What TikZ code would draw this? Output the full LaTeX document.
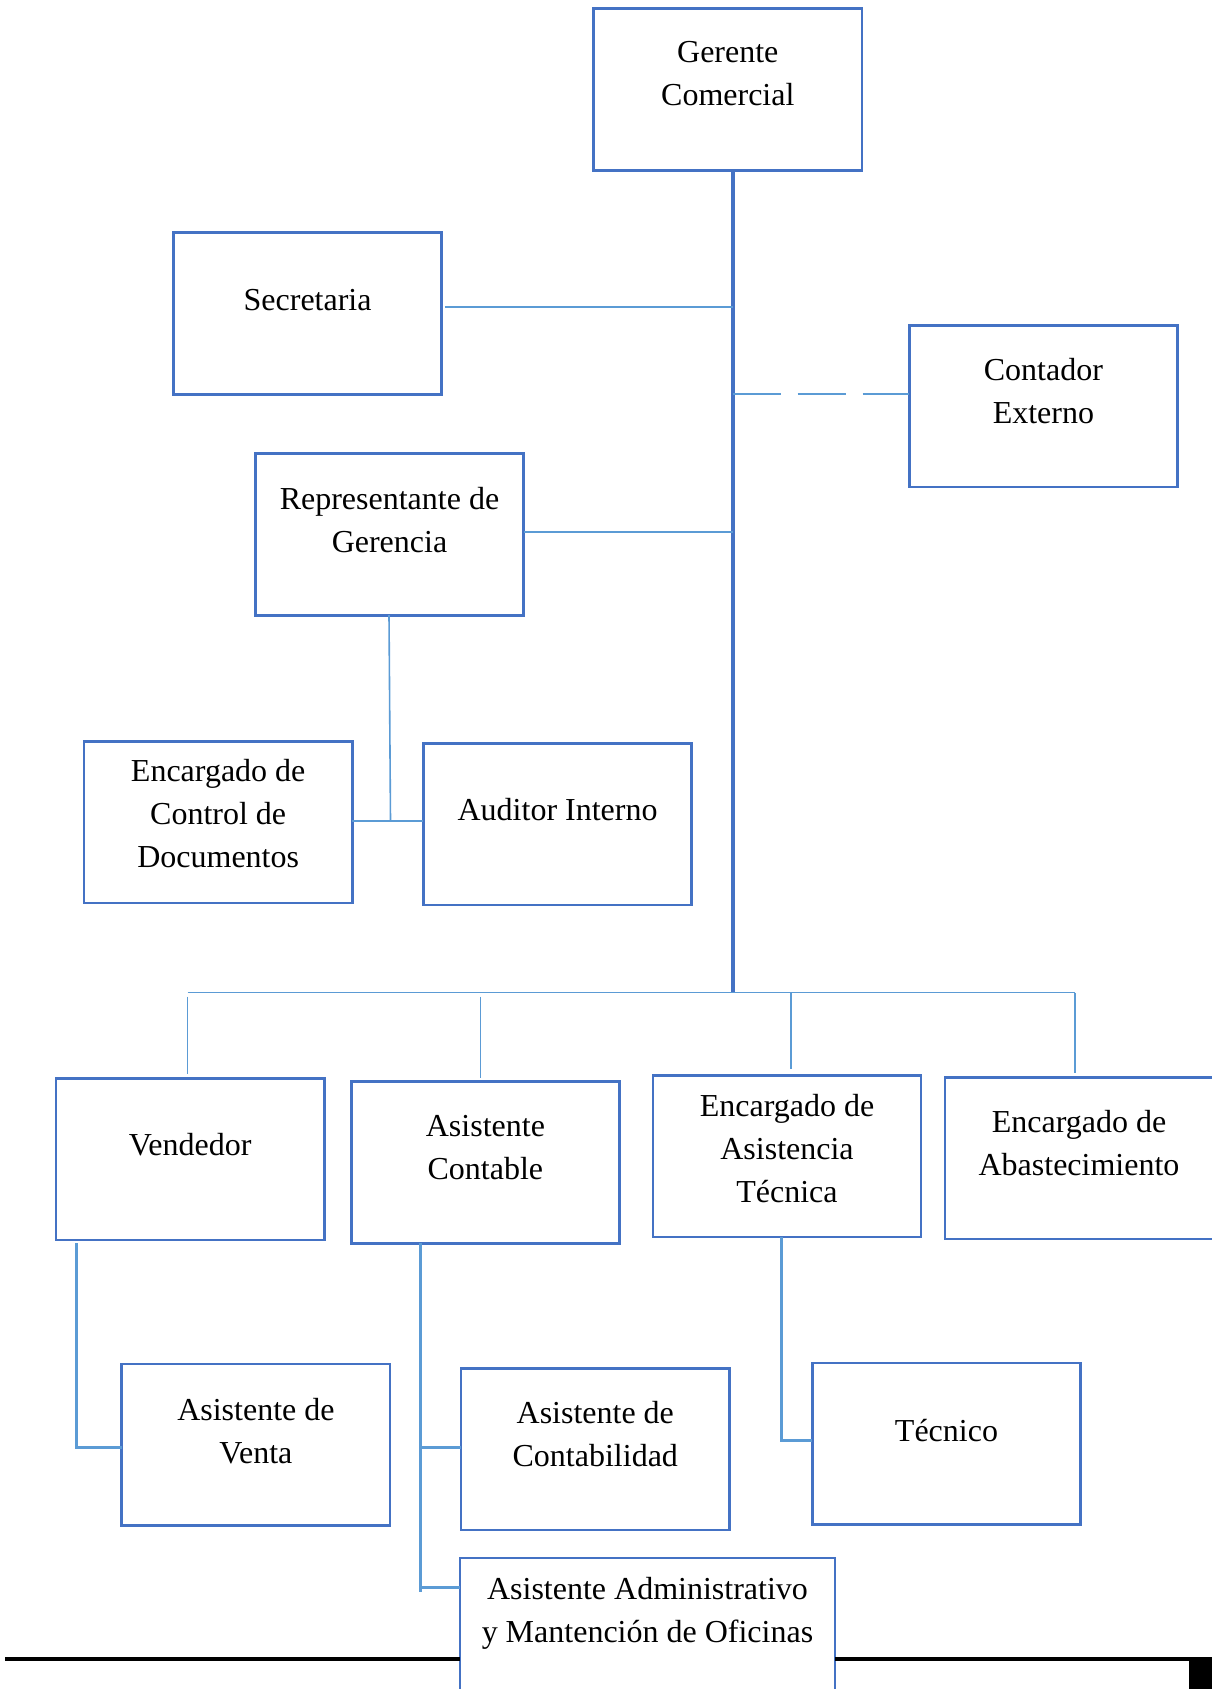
\documentclass[tikz,border=0pt]{standalone}
\usepackage{fontspec}
\setmainfont{Liberation Serif}
\definecolor{bx}{HTML}{4472C4}
\definecolor{lc}{HTML}{5B9BD5}
\begin{document}
\begin{tikzpicture}[x=1pt,y=-1pt,
 box/.style={draw=bx, line width=2.6pt, minimum width=268.3pt, minimum height=161.6pt, inner sep=0pt, outer sep=0pt},
 txt/.style={anchor=north, align=center, inner sep=0pt, font=\fontsize{32}{43}\selectfont},
 trunk/.style={draw=bx, line width=4pt},
 thinc/.style={draw=lc, line width=1.6pt},
 elbow/.style={draw=lc, line width=3pt},
 rule/.style={draw=black, line width=4pt}]
\useasboundingbox (0,0) rectangle (1212,1689);
\clip (0,0) rectangle (1212,1689);
% boxes
\node[box] (gerente) at (727.8,89.4) {};
\node[box] (secretaria) at (307.6,313.5) {};
\node[box] (contador) at (1043.4,406.2) {};
\node[box] (repr) at (389.5,534.4) {};
\node[box] (control) at (218.2,822.0) {};
\node[box] (auditor) at (557.6,824.2) {};
\node[box] (vendedor) at (190.2,1159.2) {};
\node[box] (contable) at (485.4,1162.4) {};
\node[box] (tecnica) at (787.0,1156.0) {};
\node[box] (abast) at (1079,1158.1) {};
\node[box] (venta) at (255.9,1444.7) {};
\node[box] (contab) at (595.3,1449.0) {};
\node[box] (tecnico) at (946.5,1443.6) {};
\node[box, minimum width=375pt] (admin) at (647.5,1638.6) {};
% texts
\node[txt] (tgerente) at ([yshift=-33pt]gerente.north) {Gerente\\Comercial};
\node[txt] (tsecretaria) at ([yshift=-56pt]secretaria.north) {Secretaria};
\node[txt] (tcontador) at ([yshift=-33pt]contador.north) {Contador\\Externo};
\node[txt] (trepr) at ([yshift=-33pt]repr.north) {Representante de\\Gerencia};
\node[txt] (tcontrol) at ([yshift=-18pt]control.north) {Encargado de\\Control de\\Documentos};
\node[txt] (tauditor) at ([yshift=-55pt]auditor.north) {Auditor Interno};
\node[txt] (tvendedor) at ([yshift=-55pt]vendedor.north) {Vendedor};
\node[txt] (tcontable) at ([yshift=-33pt]contable.north) {Asistente\\Contable};
\node[txt] (ttecnica) at ([yshift=-19pt]tecnica.north) {Encargado de\\Asistencia\\Técnica};
\node[txt] (tabast) at ([yshift=-33pt]abast.north) {Encargado de\\Abastecimiento};
\node[txt] (tventa) at ([yshift=-34pt]venta.north) {Asistente de\\Venta};
\node[txt] (tcontab) at ([yshift=-33pt]contab.north) {Asistente de\\Contabilidad};
\node[txt] (ttecnico) at ([yshift=-56pt]tecnico.north) {Técnico};
\node[txt] (tadmin) at ([yshift=-19pt]admin.north) {Asistente Administrativo\\y Mantención de Oficinas};
% coordinates
\coordinate (bus) at (732.6,992.5);
\coordinate (trtop) at (732.6,170.2);
\coordinate (busL) at (187.5,992.5);
\coordinate (busR) at (1075.2,992.5);
\coordinate (d2) at (480.5,992.5);
\coordinate (d3) at (790.8,992.5);
\coordinate (ctrlj) at (390.5,821);
\coordinate (ve) at (76.5,1243);
\coordinate (ac) at (420.7,1243);
\coordinate (acb) at (420.7,1592);
\coordinate (adj) at (460,1587);
\coordinate (te) at (781,1237);
% connectors
\draw[trunk] (trtop) -- (bus);
\draw[thinc] ([yshift=6.5pt,xshift=3pt]secretaria.east) -- ([yshift=6.5pt]secretaria.east -| bus);
\draw[thinc, dash pattern=on 48pt off 17pt] ([yshift=12.2pt]contador.west -| bus) -- ([yshift=12.2pt]contador.west);
\draw[thinc] ([yshift=2.4pt]repr.east) -- ([yshift=2.4pt]repr.east -| bus);
\draw[thinc] ([xshift=-0.5pt]repr.south) -- (ctrlj);
\draw[thinc] ([yshift=1pt]control.east) -- ([yshift=1pt]control.east -| auditor.west);
\draw[thinc] (busL) -- (busR);
\draw[thinc] ([yshift=-4pt]busL) -- ([yshift=4pt]busL |- vendedor.north);
\draw[thinc] ([yshift=-4pt]d2) -- ([yshift=4pt]d2 |- contable.north);
\draw[thinc] (d3) -- ([yshift=6pt]d3 |- tecnica.north);
\draw[thinc] (busR) -- ([yshift=4pt]busR |- abast.north);
\draw[elbow] (ve) |- ([yshift=-2.3pt]venta.west);
\draw[elbow] (ac) -- (acb);
\draw[elbow] ([yshift=2pt]ac |- contab.west) -- ([yshift=2pt]contab.west);
\draw[elbow] (ac |- adj) -- (adj);
\draw[elbow] (te) |- ([yshift=3.6pt]tecnico.west);
% bottom rule
\draw[rule] (5,1659) -- (admin.west |- 0,1659);
\draw[rule] (admin.east |- 0,1659) -- (1189,1659);
\fill[black] (1189,1657) rectangle (1212,1689);
\end{tikzpicture}
\end{document}
